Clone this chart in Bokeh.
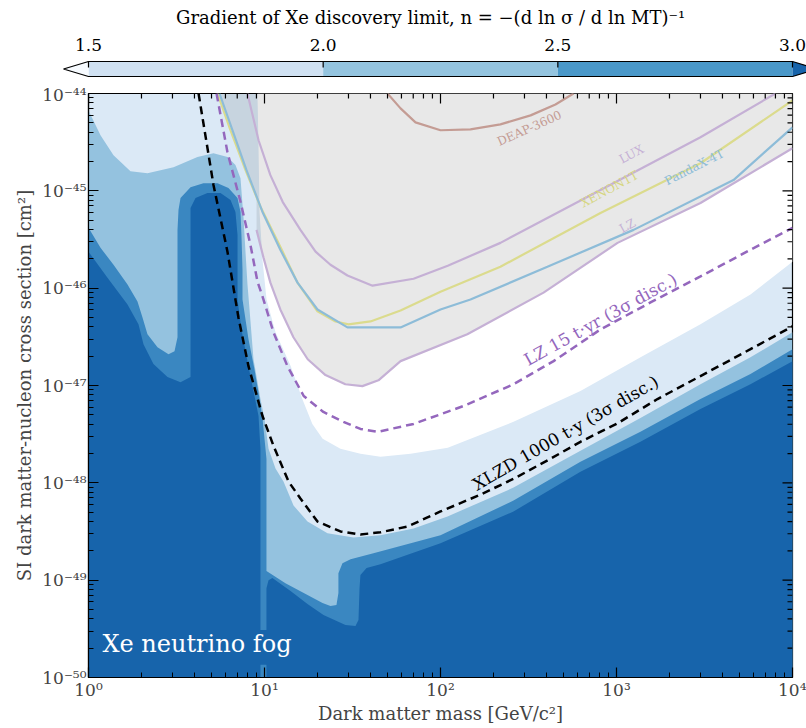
from bokeh.plotting import figure
from bokeh.models import Range1d, FixedTicker, CustomJSTickFormatter
from bokeh.embed import file_html
from bokeh.resources import INLINE
from bokeh.core.properties import value
import numpy as np

FONT = "DejaVu Serif"

# ---------------- axis ranges / ticks ----------------
MASS_MIN, MASS_MAX = 1.0, 1.0e4
XSEC_MIN, XSEC_MAX = 1.0e-50, 1.0e-44
mass_ticks = [1.0, 10.0, 100.0, 1000.0, 10000.0]
xsec_ticks = [1e-50, 1e-49, 1e-48, 1e-47, 1e-46, 1e-45, 1e-44]

# ---------------- colour bar ----------------
cbar_edges = [1.5, 2.0, 2.5, 3.0]
cbar_colors = ["#d0e1f2", "#94c4df", "#4a98c9"]
cbar_under = "#f7fbff"
cbar_over = "#1764ab"
cbar_ticks = [1.5, 2.0, 2.5, 3.0]
cbar_labels = ["1.5", "2.0", "2.5", "3.0"]
cbar_title = "Gradient of Xe discovery limit, n = \u2212(d ln \u03c3 / d ln MT)\u207b\u00b9"

# ---------------- filled gradient contours (upper boundaries) ----------------
fill_light = "#dbe9f6"
fill_mid = "#94c2df"
fill_dark = "#3a87c1"
fill_darkest = "#1764ab"

# n = 1.5 boundary (white, n < 1.5, lies above / right of it)
n15_mass = [9.12, 9.25, 9.37, 9.74, 10.27, 11.55, 14.1, 16.4, 18.7, 21.4, 27.0, 35.1, 45.6,
            67.6, 110, 260, 624, 1370, 3000, 5770, 10000]
n15_xsec = [1e-44, 2.61e-45, 6.07e-46, 1.96e-46, 7.64e-47, 3.52e-47, 1.58e-47, 7.26e-48, 4.03e-48,
            2.83e-48, 2.24e-48, 1.99e-48, 1.85e-48, 1.99e-48, 2.29e-48, 4.23e-48, 8.77e-48,
            1.95e-47, 4.25e-47, 8.6e-47, 1.87e-46]

# n = 2.0 boundary
n20_mass = [1.0, 1.17, 1.387, 1.732, 2.163, 3.041, 4.159, 5.129, 6.166, 6.839, 7.305, 7.601, 7.798,
            8.004, 8.222, 8.660, 9.484, 10.0, 10.54, 11.55, 12.82, 14.62, 17.55, 22.80, 32.06, 45.60,
            70.3, 109.6, 260, 624, 1368, 3000, 5770, 10000]
n20_xsec = [6.70e-45, 3.73e-45, 2.32e-45, 1.59e-45, 1.52e-45, 1.75e-45, 2.22e-45, 2.44e-45, 2.22e-45,
            1.84e-45, 1.35e-45, 5.27e-46, 2.37e-46, 1.09e-46, 6.04e-47, 1.86e-47, 7.26e-48, 4.53e-48,
            2.24e-48, 1.40e-48, 1.03e-48, 5.85e-49, 4.01e-49, 3.03e-49, 2.75e-49, 2.89e-49, 3.40e-49,
            4.51e-49, 8.93e-49, 2.13e-48, 4.64e-48, 1.03e-47, 1.95e-47, 3.52e-47]

# n = 2.5 boundary
n25_mass = [1.0, 1.17, 1.387, 1.666, 1.898, 2.027, 2.163, 2.466, 2.848, 3.081, 3.204, 3.204, 3.246,
            3.333, 3.799, 4.498, 5.408, 6.240, 7.025, 7.305, 7.396, 7.499, 7.499, 8.110, 8.770, 9.376,
            9.750, 10.0, 10.26, 10.26, 13.15, 17.55, 21.36, 23.71, 25.64, 26.30, 26.30, 27.73, 30.83,
            41.59, 100, 260, 624, 1368, 3000, 5770, 10000]
n25_xsec = [4.17e-46, 2.60e-46, 1.74e-46, 1.09e-46, 7.29e-47, 5.00e-47, 3.36e-47, 2.47e-47, 2.10e-47,
            2.25e-47, 3.13e-47, 3.97e-46, 6.37e-46, 8.43e-46, 1.09e-45, 1.20e-45, 1.20e-45, 1.07e-45,
            8.43e-46, 6.07e-46, 3.53e-46, 1.55e-46, 7.64e-47, 2.98e-47, 1.47e-47, 7.26e-48, 4.53e-48,
            2.83e-48, 1.77e-48, 1.24e-49, 9.31e-50, 7.03e-50, 5.82e-50, 5.42e-50, 5.55e-50, 7.36e-50,
            1.18e-49, 1.49e-49, 1.64e-49, 1.89e-49, 2.89e-49, 6.58e-49, 1.65e-48, 3.34e-48, 7.26e-48,
            1.31e-47, 2.36e-47]

# n = 3.0 boundary
n30_mass = [1.0, 1.282, 1.666, 1.923, 2.053, 2.339, 2.810, 3.333, 3.799, 3.799, 4.055, 4.742, 5.623,
            6.412, 6.839, 7.025, 7.025, 7.396, 8.110, 9.247, 9.484, 9.484, 10.26, 10.26, 10.54, 11.09,
            14.06, 17.55, 21.63, 28.84, 32.89, 34.20, 34.67, 35.08, 38.02, 45.60, 100, 260, 624, 1368,
            3000, 5770, 10000]
n30_xsec = [2.37e-46, 1.28e-46, 6.79e-47, 4.25e-47, 2.65e-47, 1.66e-47, 1.22e-47, 1.08e-47, 1.22e-47,
            6.67e-46, 8.43e-46, 9.50e-46, 9.50e-46, 8.05e-46, 6.07e-46, 3.53e-46, 7.64e-47, 3.77e-47,
            1.58e-47, 4.86e-48, 2.24e-48, 3.08e-50, 3.08e-50, 8.28e-50, 1.00e-49, 1.05e-49, 7.72e-50,
            5.69e-50, 4.38e-50, 3.47e-50, 3.39e-50, 3.90e-50, 8.28e-50, 1.13e-49, 1.33e-49, 1.46e-49,
            2.39e-49, 5.08e-49, 1.30e-48, 2.64e-48, 5.74e-48, 1.03e-47, 1.78e-47]

strip_mass = [9.484, 10.26]
strip_xsec = [1.0e-50, 1.35e-50]

# ---------------- experimental limits ----------------
lux_mass = [8.0, 9.25, 10.8, 12.7, 16.0, 19.5, 23.7, 29.6, 41.1, 70.3, 110, 219, 811, 3000, 8000]
lux_xsec = [1e-44, 3.31e-45, 1.45e-45, 7.67e-46, 3.97e-46, 2.37e-46, 1.74e-46, 1.35e-46, 1.06e-46,
            1.25e-46, 1.70e-46, 2.92e-46, 1.02e-45, 3.55e-45, 1e-44]

xenon1t_mass = [5.41, 6.41, 7.8, 9.5, 12.3, 15.4, 20.0, 25.3, 30.0, 40.0, 59.3, 100, 219, 811, 3000, 10000]
xenon1t_xsec = [1e-44, 4.19e-45, 1.63e-45, 6.82e-46, 2.66e-46, 1.14e-46, 5.77e-47, 4.55e-47, 4.25e-47,
                4.55e-47, 5.9e-47, 9.2e-47, 1.66e-46, 5.93e-46, 1.92e-45, 8.48e-45]

pandax_mass = [5.55, 6.58, 7.9, 9.74, 12.3, 15.4, 20.0, 29.6, 59.3, 100, 148, 405, 1250, 4620, 10000]
pandax_xsec = [1e-44, 4.19e-45, 1.63e-45, 6.07e-46, 2.48e-46, 1.14e-46, 6.04e-47, 3.95e-47, 3.95e-47,
               6.04e-47, 7.64e-47, 1.66e-46, 3.97e-46, 1.29e-45, 4.49e-45]

lz_mass = [9.01, 9.87, 10.8, 12.3, 14.6, 17.6, 22.2, 28.8, 36.0, 44.4, 59.3, 142, 385, 1014, 3000, 10000]
lz_xsec = [3.97e-46, 2.06e-46, 1.14e-46, 6.04e-47, 3.13e-47, 1.86e-47, 1.28e-47, 1.03e-47, 9.86e-48,
           1.13e-47, 1.78e-47, 3.36e-47, 9.0e-47, 2.92e-46, 7.5e-46, 2.74e-45]

deap_mass = [50, 59.3, 72.1, 100, 148, 219, 325, 450, 570]
deap_xsec = [1e-44, 7.03e-45, 5.05e-45, 4.19e-45, 4.28e-45, 4.82e-45, 5.96e-45, 7.72e-45, 1e-44]

# ---------------- projected discovery limits ----------------
lz15_mass = [5.34, 6.16, 7.31, 8.32, 9.12, 9.87, 11.25, 13.5, 16.7, 21.6, 28.1, 35.1, 43.9, 70.3, 135,
             260, 439, 811, 1560, 3000, 5770, 10000]
lz15_xsec = [1e-44, 2.49e-45, 7.67e-46, 2.79e-46, 1.17e-46, 7.64e-47, 3.52e-47, 1.58e-47, 7.8e-48,
             5.35e-48, 4.23e-48, 3.58e-48, 3.34e-48, 4.03e-48, 6.15e-48, 1.03e-47, 1.78e-47, 3.77e-47,
             7.13e-47, 1.32e-46, 2.48e-46, 4.17e-46]

xlzd_mass = [4.22, 5.13, 6.16, 7.11, 8.11, 9.74, 11.25, 13.7, 16.0, 20.0, 27.0, 35.1, 45.6, 65.0, 100,
             169, 260, 422, 624, 1000, 1710, 3000, 5770, 10000]
xlzd_xsec = [1e-44, 1.15e-45, 2.37e-46, 5.0e-47, 1.58e-47, 4.86e-48, 2.40e-48, 1.03e-48, 6.9e-49, 4.0e-49,
             3.17e-49, 2.95e-49, 3.1e-49, 3.56e-49, 5.08e-49, 7.57e-49, 1.10e-48, 1.77e-48, 2.64e-48,
             4.03e-48, 7.26e-48, 1.25e-47, 2.36e-47, 4.05e-47]

# ---------------- text labels ----------------
lim_label_text = ["DEAP-3600", "LUX", "XENON1T", "PandaX-4T", "LZ"]
lim_label_mass = [320, 1217, 912, 2773, 1155]
lim_label_xsec = [4.38e-45, 2.38e-45, 1.04e-45, 1.75e-45, 4.37e-46]
lim_label_angle = [24, 28, 28, 27, 29]
lim_label_color = ["#c49c94", "#c5b0d5", "#d6d680", "#8dbcd8", "#c5b0d5"]

proj_label_text = ["LZ 15 t\u00b7yr (3\u03c3 disc.)", "XLZD 1000 t\u00b7y (3\u03c3 disc.)"]
proj_label_mass = [811, 513]
proj_label_xsec = [4.78e-47, 3.26e-48]
proj_label_angle = [29, 30]
proj_label_color = ["#9467bd", "black"]

fog_text = "Xe neutrino fog"
fog_mass = 1.20
fog_xsec = 2.2e-50

# ======================= layout constants =======================
FIG_W = 806
LEFT, RIGHT = 88, 14            # frame borders (px)
CB_H = 84
TOP, BOTTOM = 9, 46
FRAME_H = 587
MAIN_H = TOP + FRAME_H + BOTTOM
FRAME_W = FIG_W - LEFT - RIGHT

# ======================= colour bar figure =======================
upx = (cbar_edges[-1] - cbar_edges[0]) / FRAME_W       # colour-bar units per pixel
cb = figure(width=FIG_W, height=CB_H,
            x_range=Range1d(cbar_edges[0] - LEFT * upx, cbar_edges[-1] + RIGHT * upx),
            y_range=Range1d(CB_H, 0),
            output_backend="svg", toolbar_location=None,
            x_axis_location=None, y_axis_location=None,
            min_border_left=0, min_border_right=0, min_border_top=0, min_border_bottom=0)
cb.grid.visible = False
cb.outline_line_color = None
bar_top, bar_bot = 61, 76
bar_mid = (bar_top + bar_bot) / 2
ext = 25 * upx
cb.quad(left=cbar_edges[:-1], right=cbar_edges[1:], top=bar_top, bottom=bar_bot,
        fill_color=cbar_colors, line_color=None)
cb.patch(x=[cbar_edges[0], cbar_edges[0] - ext, cbar_edges[0]], y=[bar_top, bar_mid, bar_bot],
         fill_color=cbar_under, line_color=None)
cb.patch(x=[cbar_edges[-1], cbar_edges[-1] + ext, cbar_edges[-1]], y=[bar_top, bar_mid, bar_bot],
         fill_color=cbar_over, line_color=None)
cb.patch(x=[cbar_edges[0] - ext, cbar_edges[0], cbar_edges[-1], cbar_edges[-1] + ext, cbar_edges[-1], cbar_edges[0]],
         y=[bar_mid, bar_top, bar_top, bar_mid, bar_bot, bar_bot],
         fill_color=None, line_color="black", line_width=1.2)
cb.segment(x0=cbar_ticks, y0=[bar_top] * 4, x1=cbar_ticks, y1=[bar_top + 6] * 4,
           line_color="black", line_width=1.2)
cb.text(x=cbar_ticks, y=[44] * 4, text=cbar_labels, text_font=value(FONT), text_font_size="17px",
        text_align="center", text_baseline="middle", text_color="black")
cb.text(x=[2.229], y=[17], text=[cbar_title], text_font=value(FONT), text_font_size="18px",
        text_align="center", text_baseline="middle", text_color="black")

# ======================= main figure =======================
p = figure(width=FIG_W, height=MAIN_H, x_axis_type="log", y_axis_type="log",
           x_range=Range1d(MASS_MIN, MASS_MAX), y_range=Range1d(XSEC_MIN, XSEC_MAX),
           output_backend="svg", toolbar_location=None,
           min_border_left=LEFT, min_border_right=RIGHT, min_border_top=TOP, min_border_bottom=BOTTOM)
p.grid.visible = False
p.background_fill_color = fill_light
p.border_fill_color = "white"
p.outline_line_color = "black"
p.outline_line_width = 1.2

def closed_below(ms, ss):
    return list(ms) + [MASS_MAX, MASS_MIN], list(ss) + [XSEC_MIN, XSEC_MIN]

# white (n < 1.5) region
p.patch(x=n15_mass + [MASS_MAX], y=n15_xsec + [XSEC_MAX], fill_color="white", line_color=None)
for ms, ss, col in [(n20_mass, n20_xsec, fill_mid), (n25_mass, n25_xsec, fill_dark),
                    (n30_mass, n30_xsec, fill_darkest)]:
    xs, ys = closed_below(ms, ss)
    p.patch(x=xs, y=ys, fill_color=col, line_color=None)
p.quad(left=[strip_mass[0]], right=[strip_mass[1]], bottom=[strip_xsec[0]], top=[strip_xsec[1]],
       fill_color=fill_dark, line_color=None)

# excluded region (grey)
lz0 = lz_mass[0]
join = 10 ** np.interp(np.log10(lz0), np.log10(pandax_mass), np.log10(pandax_xsec))
ex_m = [m for m in pandax_mass if m < lz0] + [lz0] + lz_mass + [MASS_MAX]
ex_s = [s for m, s in zip(pandax_mass, pandax_xsec) if m < lz0] + [join] + lz_xsec + [XSEC_MAX]
p.patch(x=ex_m, y=ex_s, fill_color="black", fill_alpha=0.09, line_color=None)

# limits
p.line(deap_mass, deap_xsec, line_color="#c49c94", line_width=2.2)
p.line(lux_mass, lux_xsec, line_color="#c5b0d5", line_width=2.2)
p.line(xenon1t_mass, xenon1t_xsec, line_color="#dbdb8d", line_width=2.2)
p.line(pandax_mass, pandax_xsec, line_color="#8dbcd8", line_width=2.2)
p.line(lz_mass, lz_xsec, line_color="#c5b0d5", line_width=2.2)
p.line(lz15_mass, lz15_xsec, line_color="#9467bd", line_width=2.5, line_dash="8 5")
p.line(xlzd_mass, xlzd_xsec, line_color="black", line_width=2.5, line_dash="8 5")

p.text(x=lim_label_mass, y=lim_label_xsec, text=lim_label_text, angle=list(np.deg2rad(lim_label_angle)),
       text_color=lim_label_color, text_font=value(FONT), text_font_size="12px",
       text_align="center", text_baseline="middle")
p.text(x=proj_label_mass, y=proj_label_xsec, text=proj_label_text, angle=list(np.deg2rad(proj_label_angle)),
       text_color=proj_label_color, text_font=value(FONT), text_font_size="17px",
       text_align="center", text_baseline="middle")
p.text(x=[fog_mass], y=[fog_xsec], text=[fog_text], text_color="white", text_font=value(FONT),
       text_font_size="24px", text_align="left", text_baseline="middle")

# mirrored inward ticks on the top and right frame edges
xminor = [m * 10 ** k for k in range(4) for m in range(2, 10)]
yminor = [m * 10.0 ** k for k in range(-50, -44) for m in range(2, 10)]
x_dec_px = FRAME_W / 4.0
y_dec_px = FRAME_H / 6.0
for ticks, length in [(mass_ticks, 10), (xminor, 5)]:
    f = 10 ** (-length / y_dec_px)
    p.segment(x0=ticks, y0=[XSEC_MAX] * len(ticks), x1=ticks, y1=[XSEC_MAX * f] * len(ticks),
              line_color="black", line_width=1.2)
for ticks, length in [(xsec_ticks, 10), (yminor, 5)]:
    f = 10 ** (-length / x_dec_px)
    p.segment(x0=[MASS_MAX] * len(ticks), y0=ticks, x1=[MASS_MAX * f] * len(ticks), y1=ticks,
              line_color="black", line_width=1.2)

# axes
fmt = CustomJSTickFormatter(code="""
const sup = {"-":"\u207b","0":"\u2070","1":"\u00b9","2":"\u00b2","3":"\u00b3","4":"\u2074",
             "5":"\u2075","6":"\u2076","7":"\u2077","8":"\u2078","9":"\u2079"};
const e = Math.round(Math.log10(tick)).toString();
return "10" + e.split("").map(c => sup[c]).join("");
""")

def style(ax, ticker):
    ax.ticker = ticker
    ax.formatter = fmt
    ax.major_tick_in = 10
    ax.major_tick_out = 0
    ax.minor_tick_in = 5
    ax.minor_tick_out = 0
    ax.axis_line_color = "black"
    ax.axis_line_width = 1.2
    ax.major_tick_line_color = "black"
    ax.minor_tick_line_color = "black"
    ax.major_tick_line_width = 1.2
    ax.major_label_text_font = FONT
    ax.major_label_text_font_size = "17px"
    ax.major_label_standoff = 2
    ax.axis_label_text_font = FONT
    ax.axis_label_text_font_style = "normal"
    ax.axis_label_text_font_size = "18px"
    ax.axis_label_standoff = 0

style(p.xaxis[0], FixedTicker(ticks=mass_ticks, minor_ticks=xminor))
style(p.yaxis[0], FixedTicker(ticks=xsec_ticks, minor_ticks=yminor))
p.xaxis[0].axis_label = "Dark matter mass [GeV/c\u00b2]"
p.yaxis[0].axis_label = "SI dark matter-nucleon cross section [cm\u00b2]"
p.yaxis[0].axis_label_standoff = 4

open("out.html", "w").write(file_html([cb, p], INLINE))
